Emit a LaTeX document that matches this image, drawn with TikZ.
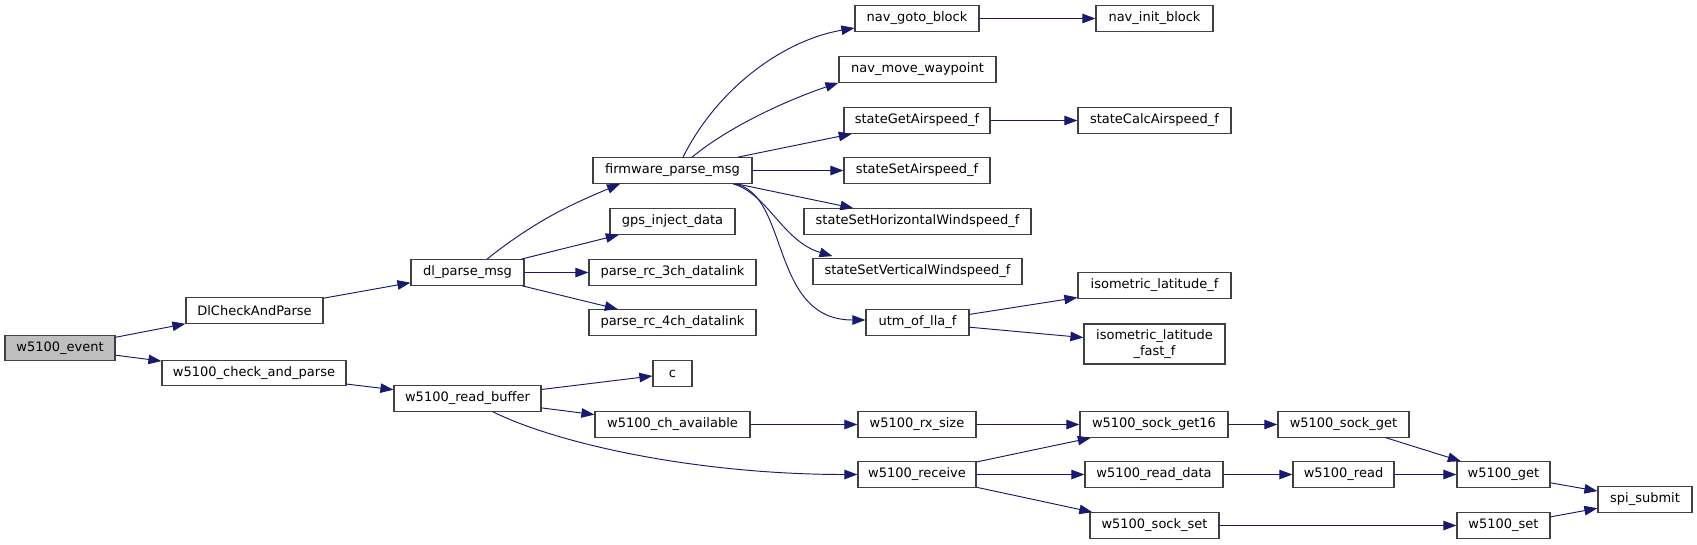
\documentclass[tikz,border=0pt]{standalone}
\usepackage{fontspec}
\setmainfont{DejaVu Sans}
\usepackage{tikz}
\usetikzlibrary{arrows.meta}
\definecolor{DoxyBlue}{HTML}{191970}
\definecolor{DoxyLine}{HTML}{404040}
\definecolor{DoxyRoot}{HTML}{BFBFBF}

\begin{document}
\begin{tikzpicture}[x=1pt,y=-1pt,>={Triangle[length=13pt,width=9.5pt]}]
    \tikzstyle{fnbox}=[draw=DoxyLine,fill=white,line width=1.2pt,inner sep=0pt,
      minimum height=25.5pt,align=center,
      font=\fontsize{13}{15.5}\selectfont]
    \tikzstyle{call}=[->,color=DoxyBlue,line width=0.95pt]
    \useasboundingbox (0,0) rectangle (1697,544);
    % first columns
    \node[fnbox,fill=DoxyRoot,minimum width=110pt] (event) at (60,348) {w5100\_event};
    \node[fnbox,minimum width=137pt] (dlcheck) at (254.5,310.5) {DlCheckAndParse};
    \node[fnbox,minimum width=184pt] (chkparse) at (254,373) {w5100\_check\_and\_parse};
    \node[fnbox,minimum width=113pt] (dlparse) at (467.5,272.5) {dl\_parse\_msg};
    \node[fnbox,minimum width=147pt] (rdbuf) at (467.5,398.5) {w5100\_read\_buffer};
    % third column
    \node[fnbox,minimum width=159pt] (fwparse) at (672.5,170.5) {firmware\_parse\_msg};
    \node[fnbox,minimum width=125pt] (gpsinj) at (672.5,221.5) {gps\_inject\_data};
    \node[fnbox,minimum width=167pt] (rc3ch) at (672.5,272.5) {parse\_rc\_3ch\_datalink};
    \node[fnbox,minimum width=167pt] (rc4ch) at (672.5,322.5) {parse\_rc\_4ch\_datalink};
    \node[fnbox,minimum width=39pt] (cfun) at (672.5,373.5) {c};
    \node[fnbox,minimum width=155pt] (chavail) at (672.5,424.5) {w5100\_ch\_available};
    % fourth column
    \node[fnbox,minimum width=124pt] (navgoto) at (917,18.5) {nav\_goto\_block};
    \node[fnbox,minimum width=157pt] (navmove) at (917.5,69.5) {nav\_move\_waypoint};
    \node[fnbox,minimum width=146pt] (getair) at (917,120.5) {stateGetAirspeed\_f};
    \node[fnbox,minimum width=146pt] (setair) at (917,170.5) {stateSetAirspeed\_f};
    \node[fnbox,minimum width=227pt] (sethwind) at (917.5,221.5) {stateSetHorizontalWindspeed\_f};
    \node[fnbox,minimum width=209pt] (setvwind) at (917.5,271.5) {stateSetVerticalWindspeed\_f};
    \node[fnbox,minimum width=103pt] (utmlla) at (917.5,322.5) {utm\_of\_lla\_f};
    \node[fnbox,minimum width=118pt] (rxsize) at (917,424.5) {w5100\_rx\_size};
    \node[fnbox,minimum width=118pt] (receive) at (917,474.5) {w5100\_receive};
    % fifth column
    \node[fnbox,minimum width=117pt] (navinit) at (1154.5,18.5) {nav\_init\_block};
    \node[fnbox,minimum width=153pt] (calcair) at (1154.5,120.5) {stateCalcAirspeed\_f};
    \node[fnbox,minimum width=153pt] (isolat) at (1154.5,285.5) {isometric\_latitude\_f};
    \node[fnbox,minimum width=141pt,minimum height=40pt] (isofast) at (1154.5,344) {isometric\_latitude\\\_fast\_f};
    \node[fnbox,minimum width=148pt] (sget16) at (1154,424.5) {w5100\_sock\_get16};
    \node[fnbox,minimum width=138pt] (rddata) at (1154,474.5) {w5100\_read\_data};
    \node[fnbox,minimum width=129pt] (ssset) at (1154.5,525.5) {w5100\_sock\_set};
    % last columns
    \node[fnbox,minimum width=131pt] (sget) at (1343.5,424.5) {w5100\_sock\_get};
    \node[fnbox,minimum width=101pt] (rd) at (1343.5,474.5) {w5100\_read};
    \node[fnbox,minimum width=93pt] (wget) at (1503.5,474.5) {w5100\_get};
    \node[fnbox,minimum width=93pt] (wset) at (1503.5,525.5) {w5100\_set};
    \node[fnbox,minimum width=94pt] (spi) at (1645,499.5) {spi\_submit};
    % calls
    \draw[call] (event)--(dlcheck);
    \draw[call] (event)--(chkparse);
    \draw[call] (dlcheck)--(dlparse);
    \draw[call] (chkparse)--(rdbuf);
    \draw[call] ([xshift=19.5pt]dlparse.north) .. controls +(50,-40) and +(-45,19) .. ([xshift=-52.5pt]fwparse.south);
    \draw[call] (dlparse)--(gpsinj);
    \draw[call] (dlparse)--(rc3ch);
    \draw[call] (dlparse)--(rc4ch);
    \draw[call] ([xshift=10.5pt]fwparse.north) .. controls +(35,-70) and +(-70,12) .. ([yshift=-9.5pt]navgoto.west);
    \draw[call] ([xshift=19.5pt]fwparse.north) .. controls +(40,-33) and +(-45,15) .. (navmove.south west);
    \draw[call] (fwparse)--(getair);
    \draw[call] (fwparse)--(setair);
    \draw[call] (fwparse)--(sethwind);
    \draw[call] ([xshift=60.5pt]fwparse.south) .. controls +(35,10) and +(-50,-15) .. ([xshift=-85pt,yshift=2pt]setvwind.north);
    \draw[call] ([xshift=62.5pt]fwparse.south) .. controls +(55,11) and +(-96,0) .. ([yshift=2.5pt]utmlla.west);
    \draw[call] (navgoto)--(navinit);
    \draw[call] (getair)--(calcair);
    \draw[call] (utmlla)--(isolat);
    \draw[call] (utmlla)--(isofast);
    \draw[call] (rdbuf)--(cfun);
    \draw[call] (rdbuf)--(chavail);
    \draw[call] ([xshift=25.5pt]rdbuf.south) .. controls +(67,33) and +(-158,0) .. (receive.west);
    \draw[call] (chavail)--(rxsize);
    \draw[call] (rxsize)--(sget16);
    \draw[call] (receive)--(sget16);
    \draw[call] (receive)--(rddata);
    \draw[call] (receive)--(ssset);
    \draw[call] (sget16)--(sget);
    \draw[call] (sget)--(wget);
    \draw[call] (rddata)--(rd);
    \draw[call] (rd)--(wget);
    \draw[call] (ssset)--(wset);
    \draw[call] (wget)--(spi);
    \draw[call] (wset)--(spi);
  \end{tikzpicture}
\end{document}
